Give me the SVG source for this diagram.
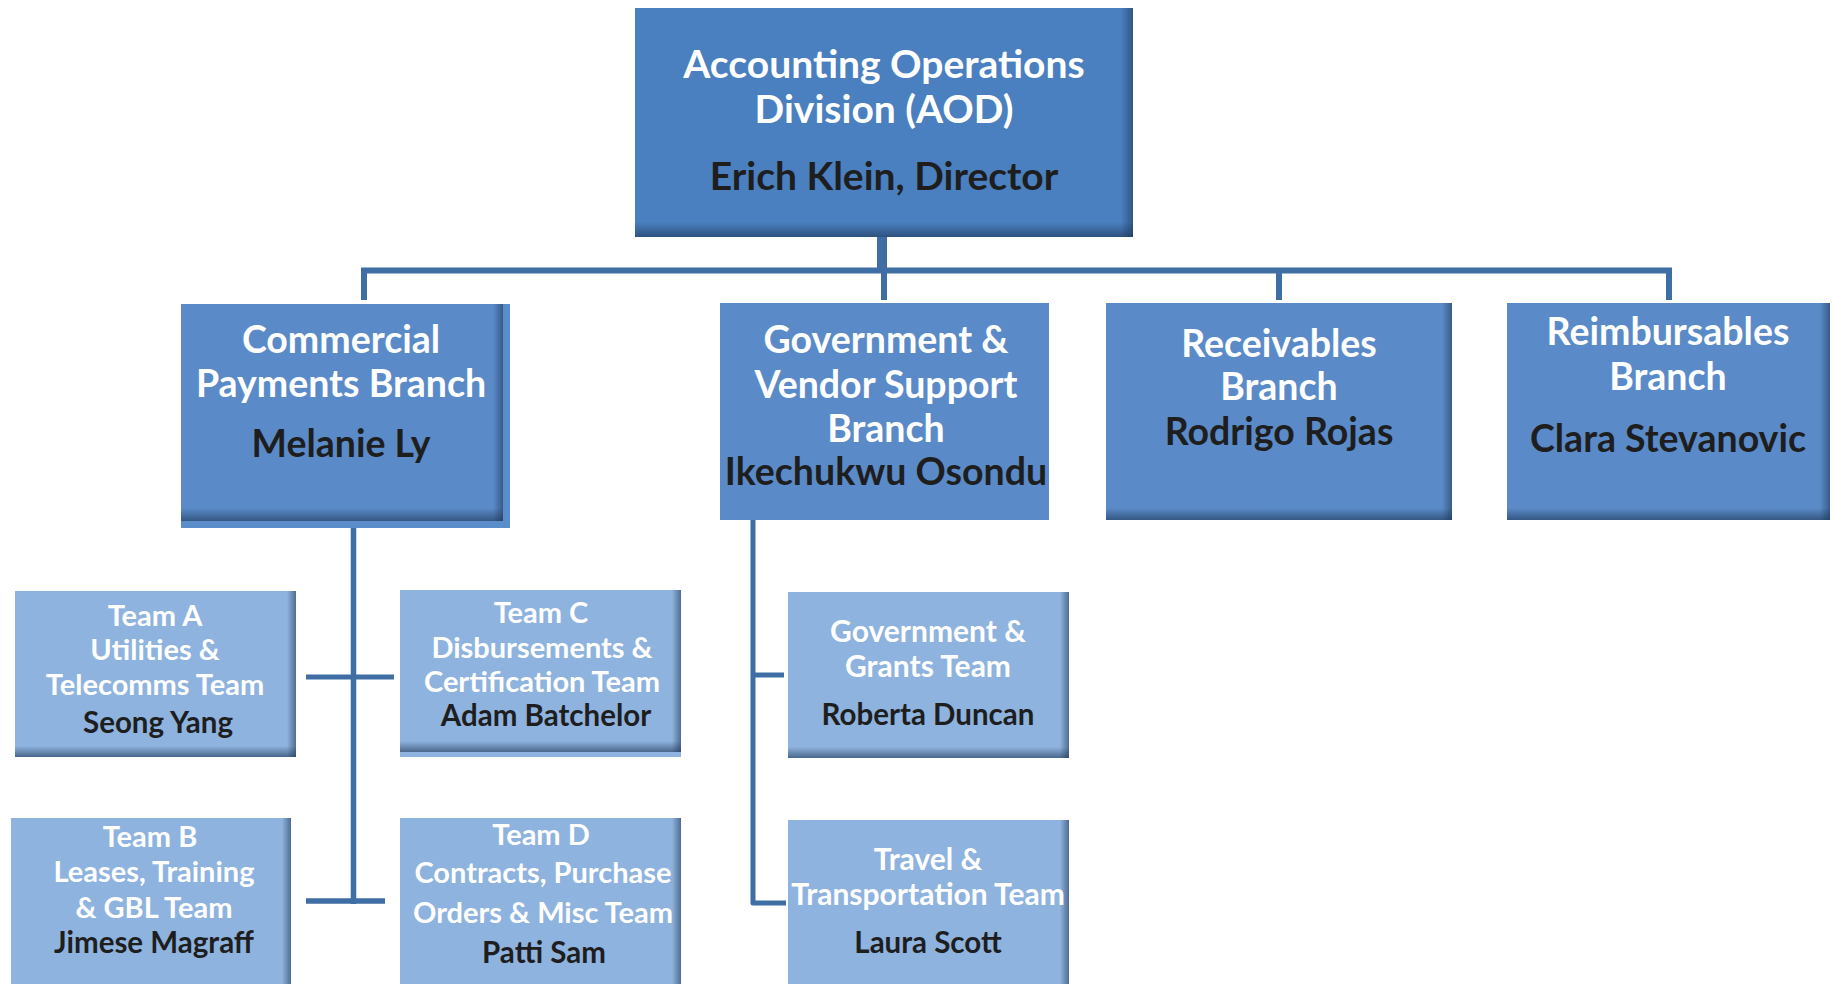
<svg xmlns="http://www.w3.org/2000/svg" width="1836" height="984" viewBox="0 0 1836 984">
<defs>
<linearGradient id="gR" x1="0" y1="0" x2="1" y2="0">
<stop offset="0" stop-color="#1c3454" stop-opacity="0"/>
<stop offset="1" stop-color="#1c3454" stop-opacity="0.55"/>
</linearGradient>
<linearGradient id="gB" x1="0" y1="0" x2="0" y2="1">
<stop offset="0" stop-color="#1c3454" stop-opacity="0"/>
<stop offset="1" stop-color="#1c3454" stop-opacity="0.6"/>
</linearGradient>
<style>
.top{fill:#4a80bf}
.br{fill:#5a8bc8}
.tm{fill:#8eb3de}
.lite{fill:#5b8dca}
.w{fill:#ffffff;font-family:Lato,"Liberation Sans",sans-serif;font-weight:bold;text-anchor:middle}
.k{fill:#1e1e1e;font-family:Lato,"Liberation Sans",sans-serif;font-weight:bold;text-anchor:middle}
.f1{font-size:39px}
.f2{font-size:37.5px}
.f3{font-size:29px}
.f4{font-size:29.5px}
.f5{font-size:30px}
.c{stroke:#3f6ea4;fill:none;stroke-linecap:butt}
</style>
</defs>

<g id="connectors">
<rect x="877" y="237" width="10" height="34" fill="#3f6ea4"/>
<path class="c" stroke-width="6" d="M364 300 V270.5 H1672"/>
<path class="c" stroke-width="6" d="M884 270 V300"/>
<path class="c" stroke-width="6" d="M1279 270 V300"/>
<path class="c" stroke-width="6" d="M1669 270 V300"/>
<path class="c" stroke-width="5.5" d="M353.5 528 V904"/>
<path class="c" stroke-width="5" d="M306 677 H394"/>
<path class="c" stroke-width="5.5" d="M306 901 H385"/>
<path class="c" stroke-width="5" stroke-linejoin="round" d="M753 520 V903 H786"/>
<path class="c" stroke-width="5" d="M753 675 H784"/>
</g>

<g id="aod">
<rect class="top" x="635" y="8" width="498" height="229"/>
<rect x="1121" y="8" width="12" height="229" fill="url(#gR)"/>
<rect x="635" y="222" width="498" height="15" fill="url(#gB)"/>
<text class="w f1" x="884" y="78">Accounting Operations</text>
<text class="w f1" x="884" y="123">Division (AOD)</text>
<text class="k f1" x="884" y="190">Erich Klein, Director</text>
</g>

<g id="commercial">
<rect class="lite" x="181" y="304" width="329" height="224"/>
<rect class="br" x="181" y="304" width="322" height="217"/>
<rect x="493" y="304" width="10" height="217" fill="url(#gR)"/>
<rect x="181" y="508" width="322" height="13" fill="url(#gB)"/>
<text class="w f2" x="341" y="353">Commercial</text>
<text class="w f2" x="341" y="397">Payments Branch</text>
<text class="k f2" x="341" y="457">Melanie Ly</text>
</g>

<g id="govvendor">
<rect class="br" x="720" y="303" width="329" height="217"/>
<text class="w f2" x="886" y="353">Government &amp;</text>
<text class="w f2" x="886" y="398">Vendor Support</text>
<text class="w f2" x="886" y="442">Branch</text>
<text class="k f2" x="886" y="485">Ikechukwu Osondu</text>
</g>

<g id="receivables">
<rect class="br" x="1106" y="303" width="346" height="217"/>
<rect x="1442" y="303" width="10" height="217" fill="url(#gR)"/>
<rect x="1106" y="508" width="346" height="12" fill="url(#gB)"/>
<text class="w f2" x="1279" y="357">Receivables</text>
<text class="w f2" x="1279" y="400">Branch</text>
<text class="k f2" x="1279" y="445">Rodrigo Rojas</text>
</g>

<g id="reimbursables">
<rect class="br" x="1507" y="303" width="323" height="217"/>
<rect x="1820" y="303" width="10" height="217" fill="url(#gR)"/>
<rect x="1507" y="508" width="323" height="12" fill="url(#gB)"/>
<text class="w f2" x="1668" y="345">Reimbursables</text>
<text class="w f2" x="1668" y="390">Branch</text>
<text class="k f2" x="1668" y="452">Clara Stevanovic</text>
</g>

<g id="teamA">
<rect class="tm" x="15" y="591" width="281" height="166"/>
<rect x="287" y="591" width="9" height="166" fill="url(#gR)"/>
<rect x="15" y="746" width="281" height="11" fill="url(#gB)"/>
<text class="w f3" x="155" y="626">Team A</text>
<text class="w f3" x="155" y="660">Utilities &amp;</text>
<text class="w f3" x="155" y="695">Telecomms Team</text>
<text class="k f4" x="158" y="733">Seong Yang</text>
</g>

<g id="teamC">
<rect class="tm" x="400" y="590" width="281" height="167"/>
<rect x="672" y="590" width="9" height="162" fill="url(#gR)"/>
<rect x="400" y="741" width="281" height="11" fill="url(#gB)"/>
<text class="w f3" x="541" y="623">Team C</text>
<text class="w f3" x="542" y="658">Disbursements &amp;</text>
<text class="w f3" x="542" y="692">Certification Team</text>
<text class="k f4" x="546" y="726">Adam Batchelor</text>
</g>

<g id="teamB">
<rect class="tm" x="11" y="818" width="280" height="180"/>
<rect x="282" y="818" width="9" height="180" fill="url(#gR)"/>
<text class="w f3" x="150" y="847">Team B</text>
<text class="w f3" x="154" y="882">Leases, Training</text>
<text class="w f3" x="154" y="918">&amp; GBL Team</text>
<text class="k f4" x="154" y="953">Jimese Magraff</text>
</g>

<g id="teamD">
<rect class="tm" x="400" y="818" width="281" height="180"/>
<rect x="672" y="818" width="9" height="180" fill="url(#gR)"/>
<text class="w f3" x="541" y="845">Team D</text>
<text class="w f3" x="543" y="883">Contracts, Purchase</text>
<text class="w f3" x="543" y="923">Orders &amp; Misc Team</text>
<text class="k f4" x="544" y="963">Patti Sam</text>
</g>

<g id="govgrants">
<rect class="tm" x="788" y="592" width="281" height="166"/>
<rect x="1060" y="592" width="9" height="166" fill="url(#gR)"/>
<rect x="788" y="747" width="281" height="11" fill="url(#gB)"/>
<text class="w f5" x="928" y="642">Government &amp;</text>
<text class="w f5" x="928" y="677">Grants Team</text>
<text class="k f4" x="928" y="725">Roberta Duncan</text>
</g>

<g id="travel">
<rect class="tm" x="788" y="820" width="281" height="180"/>
<rect x="1060" y="820" width="9" height="180" fill="url(#gR)"/>
<text class="w f5" x="928" y="870">Travel &amp;</text>
<text class="w f5" x="928" y="905">Transportation Team</text>
<text class="k f4" x="928" y="953">Laura Scott</text>
</g>
</svg>
